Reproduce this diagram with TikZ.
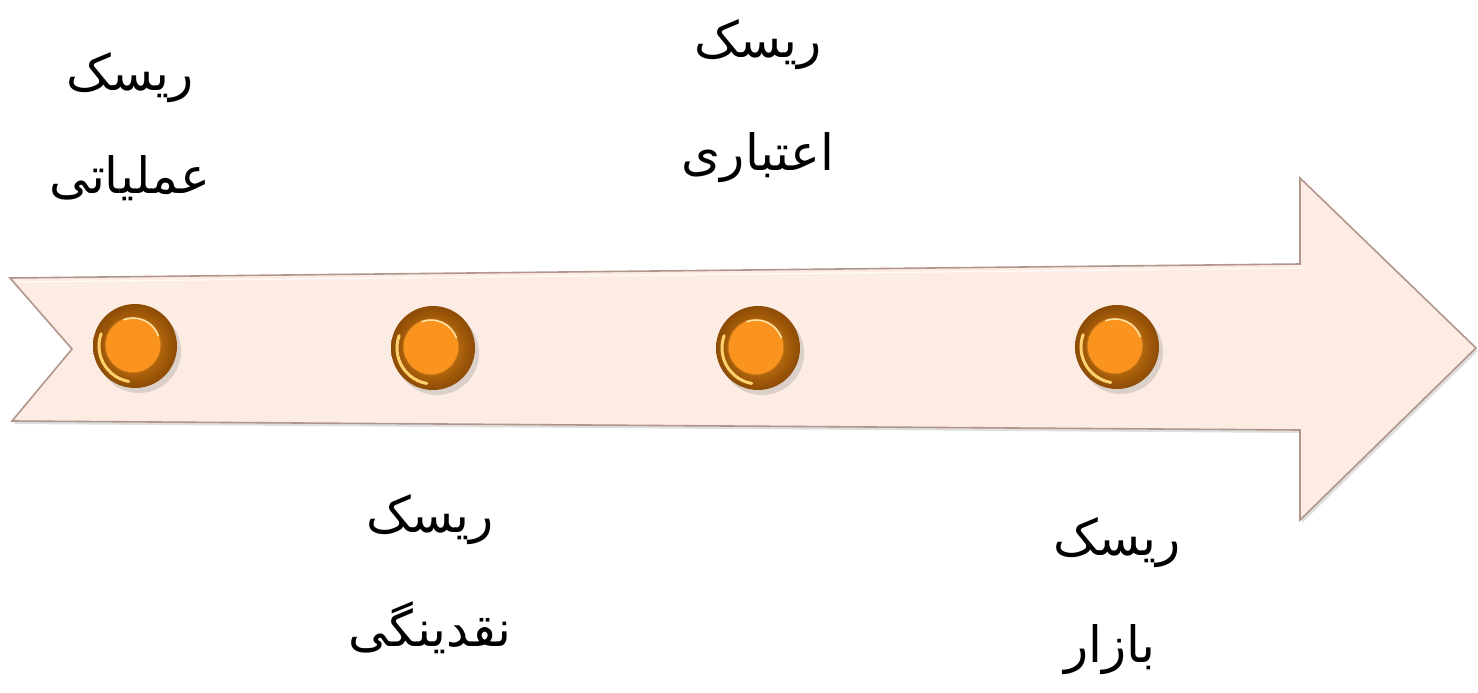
\documentclass[tikz,border=0pt]{standalone}
\usepackage{fontspec}
\newfontfamily\arabicfont[Script=Arabic]{DejaVu Sans}
\TeXXeTstate=1
\definecolor{arrowfill}{RGB}{253,236,227}
\definecolor{arrowedge}{RGB}{176,150,140}
\definecolor{dotorange}{RGB}{250,148,30}
\definecolor{dotdark}{RGB}{140,75,5}
\definecolor{dotmid}{RGB}{235,140,25}
\definecolor{dotlight}{RGB}{255,210,110}
\tikzset{
  label/.style={font=\arabicfont\fontsize{50}{58}\selectfont, inner sep=0pt, align=center},
  dotouter/.style={circle, minimum size=84pt, inner sep=0pt, draw=none,
    inner color=dotmid, outer color=dotdark},
  dotinner/.style={circle, minimum size=56pt, inner sep=0pt, fill=dotorange, draw=dotmid!80!black, line width=1pt},
}
\begin{document}
\begin{tikzpicture}[x=1pt,y=-1pt]
\useasboundingbox (0,0) rectangle (1478,693);
% arrow
\coordinate (lt) at (10,278);
\coordinate (notch) at (72,349);
\coordinate (lb) at (12,421);
\coordinate (sb) at (1300,430);
\coordinate (hb) at (1300,520);
\coordinate (tip) at (1476,348);
\coordinate (ht) at (1300,178);
\coordinate (st) at (1300,264);
\fill[black!25, opacity=0.5] ([shift={(2,3)}]lt) -- ([shift={(2,3)}]notch) -- ([shift={(2,3)}]lb) -- ([shift={(2,3)}]sb) -- ([shift={(2,3)}]hb) -- ([shift={(2,3)}]tip) -- ([shift={(2,3)}]ht) -- ([shift={(2,3)}]st) -- cycle;
\draw[fill=arrowfill, draw=arrowedge, line width=1.6pt, line join=miter]
  (lt) -- (notch) -- (lb) -- (sb) -- (hb) -- (tip) -- (ht) -- (st) -- cycle;
\draw[white, line width=1.2pt, opacity=0.8]
  ([shift={(6,4)}]lt) -- ([shift={(1296,-10)}]lt);
% dots
\foreach \n/\x/\y in {d1/135/346, d2/433/348, d3/758/348, d4/1117/347}{
  \fill[black!40, opacity=0.35] (\x+4,\y+5) circle (42);
  \node[dotouter] (\n) at (\x,\y) {};
  \draw[dotlight, line width=3pt, line cap=round] (\x,\y) ++(100:36) arc (100:200:36);
  \node[dotinner] (\n i) at (\x-2,\y-1) {};
  \draw[dotlight!60!white, line width=1.5pt, line cap=round] (\x-2,\y-1) ++(-20:27) arc (-20:-110:27);
}
% labels
\node[label] (t1a) at (130,78) {\beginR ریسک\endR};
\node[label] (t1b) at (130,178) {\beginR عملیاتی\endR};
\node[label] (t3a) at (758,45) {\beginR ریسک\endR};
\node[label] (t3b) at (758,158) {\beginR اعتباری\endR};
\node[label] (t2a) at (430,520) {\beginR ریسک\endR};
\node[label] (t2b) at (430,628) {\beginR نقدینگی\endR};
\node[label] (t4a) at (1117,543) {\beginR ریسک\endR};
\node[label] (t4b) at (1110,650) {\beginR بازار\endR};
\end{tikzpicture}
\end{document}
